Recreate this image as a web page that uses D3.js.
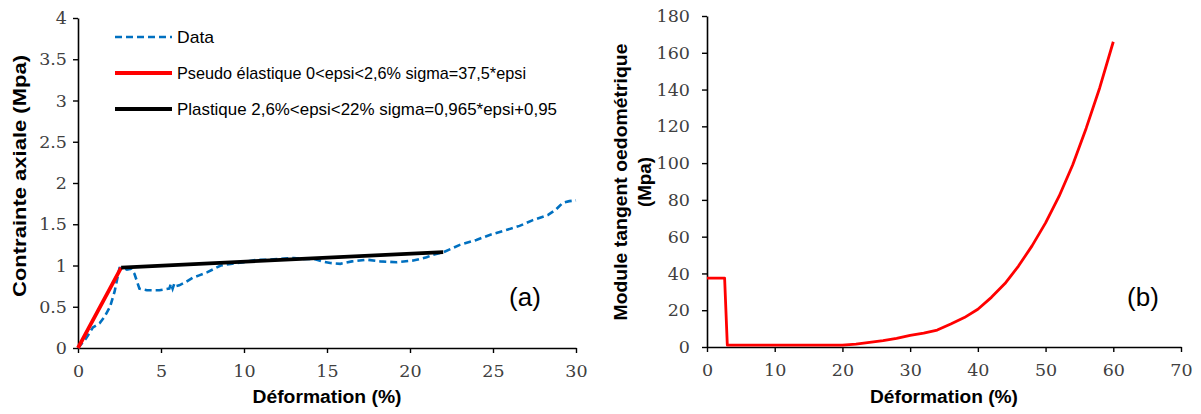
<!DOCTYPE html>
<html><head><meta charset="utf-8">
<script src="https://cdn.jsdelivr.net/npm/d3@7"></script>
<style>
body{margin:0;background:#fff;}
svg{display:block;}
.tick text{font-family:"DejaVu Serif","Liberation Serif",serif;font-size:17.5px;fill:#404040;}
.ttl{font-family:"Liberation Sans",Arial,sans-serif;font-weight:bold;font-size:18px;fill:#000;}
.leg{font-family:"Liberation Sans",Arial,sans-serif;font-size:17px;fill:#000;}
</style>
</head><body>
<script>
// Chart (a) data: strain (%) vs axial stress (MPa)
const dataEps = [0,0.5,0.9,1.3,1.6,1.93,2.2,2.5,2.75,2.95,3.2,3.4,3.7,4.15,4.6,4.9,5.2,5.5,5.6,5.7,5.8,5.9,6.1,6.5,6.9,7.3,7.8,8.2,8.6,9.2,10,10.8,11.5,12.2,13,13.6,14.2,14.7,15.2,15.8,16.5,17.4,18.2,19.2,20.2,21,21.4,22,23,24,24.8,25.8,26.6,27.4,28.3,28.8,29.2,29.6,30];
const dataSig = [0,0.12,0.25,0.3,0.38,0.5,0.68,0.97,0.97,0.95,0.96,0.9,0.72,0.7,0.7,0.7,0.71,0.72,0.78,0.72,0.78,0.75,0.76,0.8,0.85,0.88,0.92,0.96,1.0,1.02,1.04,1.07,1.07,1.08,1.09,1.08,1.08,1.05,1.03,1.02,1.05,1.07,1.05,1.04,1.06,1.1,1.13,1.16,1.25,1.31,1.37,1.43,1.48,1.55,1.61,1.68,1.76,1.78,1.79];
const elasEps = [0,0.6,1.2,1.8,2.6];
const elasSig = [0,0.225,0.45,0.675,0.975];
const plasEps = [2.6,22];
const plasSig = [0.975,1.162];
const axTicksA_x = [0,5,10,15,20,25,30];
const axTicksA_y = [0,0.5,1,1.5,2,2.5,3,3.5,4];
const legendLabels = ["Data","Pseudo élastique 0<epsi<2,6% sigma=37,5*epsi","Plastique 2,6%<epsi<22% sigma=0,965*epsi+0,95"];

// Chart (b) data: strain (%) vs tangent oedometric modulus (MPa)
const modEps = [0,2.6,3,6,10,14,18,20,22,24,26,28,30,32,34,36,38,40,42,44,46,48,50,52,54,56,58,60];
const modVal = [37.5,37.5,1,1,1,1,1,1,1.6,2.5,3.5,4.7,6.3,7.6,9.2,12.5,16,20.5,27,34.5,44,55,67.5,82,99,119,141,166];
const axTicksB_x = [0,10,20,30,40,50,60,70];
const axTicksB_y = [0,20,40,60,80,100,120,140,160,180];

const W=1201,H=414;
const svg=d3.select("body").append("svg").attr("width",W).attr("height",H);

function styleAxis(a){
  a.select(".domain").attr("stroke","#000").attr("stroke-width",1.6);
  a.selectAll(".tick line").attr("stroke","#000").attr("stroke-width",1.4);
}

// ---------- Chart (a)
const xa=d3.scaleLinear().domain([0,30]).range([78,576]);
const ya=d3.scaleLinear().domain([0,4]).range([348,18]);
const ga=svg.append("g");
const axXa=ga.append("g").attr("transform","translate(0,348)")
  .call(d3.axisBottom(xa).tickValues(axTicksA_x).tickSize(5).tickSizeOuter(0).tickPadding(12));
const axYa=ga.append("g").attr("transform","translate(78,0)")
  .call(d3.axisLeft(ya).tickValues(axTicksA_y).tickSize(5).tickSizeOuter(0).tickPadding(6).tickFormat(d3.format("")));
styleAxis(axXa); styleAxis(axYa);

const linea=d3.line().x(d=>xa(d[0])).y(d=>ya(d[1]));
ga.append("path").datum(dataEps.map((e,i)=>[e,dataSig[i]])).attr("d",linea)
  .attr("fill","none").attr("stroke","#0070C0").attr("stroke-width",2.6).attr("stroke-dasharray","7,4");
ga.append("path").datum(elasEps.map((e,i)=>[e,elasSig[i]])).attr("d",linea)
  .attr("fill","none").attr("stroke","#FF0000").attr("stroke-width",3.8);
ga.append("path").datum(plasEps.map((e,i)=>[e,plasSig[i]])).attr("d",linea)
  .attr("fill","none").attr("stroke","#000").attr("stroke-width",3.8);

// legend
const legStyles=[{c:"#0070C0",w:2.6,d:"7,4"},{c:"#FF0000",w:4,d:null},{c:"#000",w:4,d:null}];
const legY=[37,73,109];
const legLen=[37,349,380];
legendLabels.forEach((t,i)=>{
  const s=legStyles[i];
  const l=ga.append("line").attr("x1",115).attr("x2",172).attr("y1",legY[i]).attr("y2",legY[i])
    .attr("stroke",s.c).attr("stroke-width",s.w);
  if(s.d) l.attr("stroke-dasharray",s.d);
  ga.append("text").attr("class","leg").attr("x",177).attr("y",legY[i]+6)
    .attr("textLength",legLen[i]).attr("lengthAdjust","spacingAndGlyphs").text(t);
});
ga.append("text").attr("class","ttl").attr("x",327).attr("y",403).attr("text-anchor","middle")
  .attr("textLength",149).attr("lengthAdjust","spacingAndGlyphs").text("Déformation (%)");
ga.append("text").attr("class","ttl").attr("transform","translate(26,176) rotate(-90)").attr("text-anchor","middle")
  .attr("textLength",242).attr("lengthAdjust","spacingAndGlyphs").text("Contrainte axiale (Mpa)");
ga.append("text").attr("x",525).attr("y",306).attr("text-anchor","middle")
  .style("font-family","'Liberation Sans',Arial,sans-serif").style("font-size","26px").text("(a)");

// ---------- Chart (b)
const xb=d3.scaleLinear().domain([0,70]).range([707,1181]);
const yb=d3.scaleLinear().domain([0,180]).range([347,16]);
const gb=svg.append("g");
const axXb=gb.append("g").attr("transform","translate(0,347)")
  .call(d3.axisBottom(xb).tickValues(axTicksB_x).tickSize(5).tickSizeOuter(0).tickPadding(12));
const axYb=gb.append("g").attr("transform","translate(707,0)")
  .call(d3.axisLeft(yb).tickValues(axTicksB_y).tickSize(5).tickSizeOuter(0).tickPadding(12));
styleAxis(axXb); styleAxis(axYb);

const lineb=d3.line().x(d=>xb(d[0])).y(d=>yb(d[1]));
gb.append("path").datum(modEps.map((e,i)=>[e,modVal[i]])).attr("d",lineb)
  .attr("fill","none").attr("stroke","#FF0000").attr("stroke-width",2.8).attr("stroke-linejoin","round");

gb.append("text").attr("class","ttl").attr("x",944).attr("y",403).attr("text-anchor","middle")
  .attr("textLength",148).attr("lengthAdjust","spacingAndGlyphs").text("Déformation (%)");
gb.append("text").attr("class","ttl").attr("transform","translate(627,182) rotate(-90)").attr("text-anchor","middle")
  .attr("textLength",277).attr("lengthAdjust","spacingAndGlyphs").text("Module tangent oedométrique");
gb.append("text").attr("class","ttl").attr("transform","translate(651,182) rotate(-90)").attr("text-anchor","middle")
  .attr("textLength",50).attr("lengthAdjust","spacingAndGlyphs").text("(Mpa)");
gb.append("text").attr("x",1143).attr("y",306).attr("text-anchor","middle")
  .style("font-family","'Liberation Sans',Arial,sans-serif").style("font-size","26px").text("(b)");
</script>
</body></html>
